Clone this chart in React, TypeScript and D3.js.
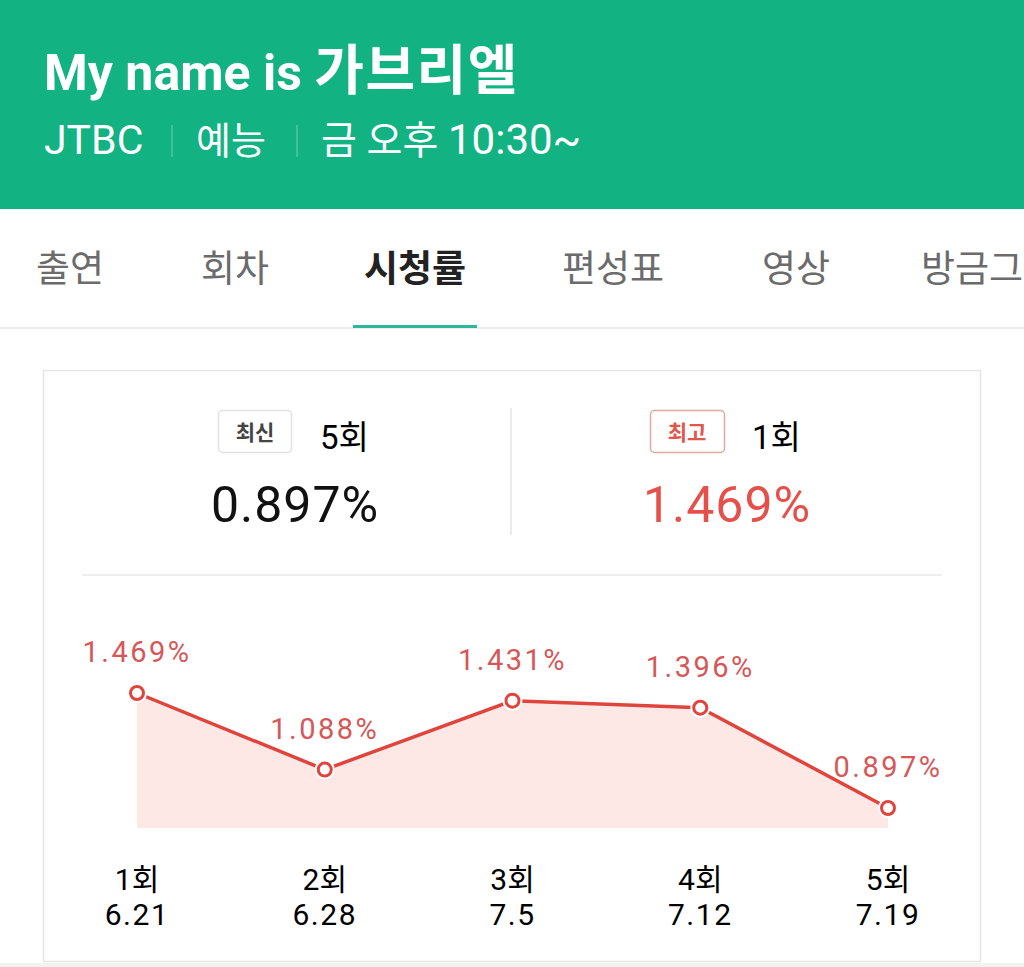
import React from "react";
import * as d3 from "d3";

const episodes = ["1회", "2회", "3회", "4회", "5회"];
const dates = ["6.21", "6.28", "7.5", "7.12", "7.19"];
const ratings = [1.469, 1.088, 1.431, 1.396, 0.897];
const tabs = ["출연", "회차", "시청률", "편성표", "영상", "방금그"];
const tabCenters = [70, 235, 415, 613, 796, 972];

const FONT = "Roboto, 'Noto Sans CJK KR', sans-serif";
const KFONT = "'Noto Sans CJK KR', Roboto, sans-serif";
const RED = "#e0453d";
const LABEL_RED = "#d65757";

export default function App() {
  const x = d3.scalePoint<string>().domain(episodes).range([137, 888]);
  const y = d3.scaleLinear().domain([d3.min(ratings)!, d3.max(ratings)!]).range([808, 693]);
  const base = y(d3.min(ratings)!) + 20;
  const pts = ratings.map((v, i) => [x(episodes[i])!, y(v)] as [number, number]);
  const line = d3.line()(pts)!;
  const area = d3.area<[number, number]>().x(d => d[0]).y0(base).y1(d => d[1])(pts)!;
  const latest = ratings.length - 1;
  const best = ratings.indexOf(d3.max(ratings)!);

  return (
    <svg width={1024} height={967} style={{ position: "absolute", left: 0, top: 0, display: "block" }} fontFamily={FONT}>
      <rect x={0} y={0} width={1024} height={967} fill="#ffffff" />
      {/* header */}
      <rect x={0} y={0} width={1024} height={209} fill="#12b283" />
      <text x={44} y={90} fill="#fff" fontSize={50} fontWeight={700}>
        My name is <tspan fontSize={54} letterSpacing={1.5}>가브리엘</tspan>
      </text>
      <text x={44} y={154} fill="#fff" fontSize={41}>JTBC</text>
      <line x1={172} x2={172} y1={125} y2={157} stroke="#ffffff" strokeOpacity={0.25} strokeWidth={1.5} />
      <text x={196} y={154} fill="#fff" fontSize={38} fontFamily={KFONT}>예능</text>
      <line x1={297} x2={297} y1={125} y2={157} stroke="#ffffff" strokeOpacity={0.25} strokeWidth={1.5} />
      <text x={321} y={154} fill="#fff" fontSize={39}>금 오후 <tspan fontSize={42}>10:30~</tspan></text>

      {/* tabs */}
      {tabs.map((t, i) => (
        <text key={t} x={tabCenters[i]} y={282} textAnchor="middle" fontSize={37} fontFamily={KFONT}
          fontWeight={i === 2 ? 700 : 400} fill={i === 2 ? "#222" : "#6b6b6b"}>{t}</text>
      ))}
      <rect x={0} y={327} width={1024} height={2} fill="#ededed" />
      <rect x={353} y={325} width={124} height={3} fill="#2bb89a" />

      {/* card */}
      <rect x={43.5} y={370.5} width={937} height={591} fill="#fff" stroke="#e6e6e6" strokeWidth={1.5} />
      <rect x={0} y={963} width={1024} height={4} fill="#f2f2f2" />

      <rect x={218.5} y={410.5} width={73} height={42} rx={4} fill="#fff" stroke="#e2e2e2" strokeWidth={1.5} />
      <text x={255} y={440} textAnchor="middle" fontSize={21} fontWeight={700} fill="#444" fontFamily={KFONT}>최신</text>
      <text x={320} y={449} fontSize={33}>{episodes[latest]}</text>
      <text x={295} y={522} textAnchor="middle" fontSize={50} letterSpacing={1} fill="#111">{ratings[latest].toFixed(3)}%</text>

      <line x1={511} x2={511} y1={408} y2={535} stroke="#e4e4e4" strokeWidth={1.5} />

      <rect x={650.5} y={410.5} width={74} height={42} rx={4} fill="#fff" stroke="#e3a89f" strokeWidth={1.5} />
      <text x={687} y={440} textAnchor="middle" fontSize={21} fontWeight={700} fill="#e0574c" fontFamily={KFONT}>최고</text>
      <text x={752} y={449} fontSize={33}>{episodes[best]}</text>
      <text x={727} y={522} textAnchor="middle" fontSize={50} letterSpacing={1} fill="#e5504a">{ratings[best].toFixed(3)}%</text>

      <line x1={82} x2={942} y1={575} y2={575} stroke="#e8e8e8" strokeWidth={1.5} />

      {/* chart */}
      <path d={area} fill="#fde8e6" />
      <path d={line} fill="none" stroke={RED} strokeWidth={3.5} />
      {pts.map(([px, py], i) => (
        <g key={i}>
          <circle cx={px} cy={py} r={10} fill="#fff" />
          <circle cx={px} cy={py} r={6.5} fill="#fff" stroke={RED} strokeWidth={3} />
          <text x={px} y={py - 31} textAnchor="middle" fontSize={29} letterSpacing={2.5} fill={LABEL_RED}>{ratings[i].toFixed(3)}%</text>
          <text x={px} y={890} textAnchor="middle" fontSize={30}>{episodes[i]}</text>
          <text x={px} y={925} textAnchor="middle" fontSize={30} letterSpacing={1.5}>{dates[i]}</text>
        </g>
      ))}
    </svg>
  );
}
